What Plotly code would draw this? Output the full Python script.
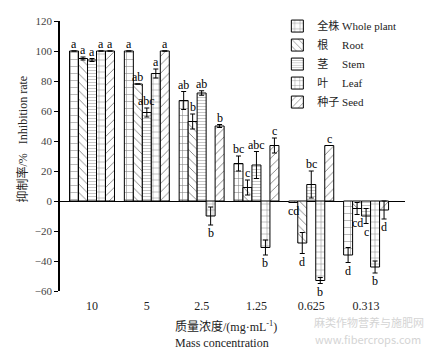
import plotly.graph_objects as go

conc = ["10", "5", "2.5", "1.25", "0.625", "0.313"]

whole = [100, 100, 67, 25, -1, -36]
whole_err = [0, 0, 6, 5, 0, 5]
whole_lab = ["a", "a", "ab", "bc", "cd", "d"]

root = [95, 78, 53, 9, -28, -5]
root_err = [1, 0, 5, 5, 7, 4]
root_lab = ["a", "ab", "b", "c", "d", "cd"]

stem = [94, 59, 72, 24, 11, -10]
stem_err = [1, 3, 1.5, 9, 9, 5]
stem_lab = ["a", "abc", "ab", "abc", "bc", "c"]

leaf = [100, 85, -10, -31, -53, -44]
leaf_err = [0, 3, 6, 5, 2, 4]
leaf_lab = ["a", "a", "b", "b", "b", "b"]

seed = [100, 100, 50, 37, 37, -6]
seed_err = [0, 0, 1, 5, 0, 6]
seed_lab = ["a", "a", "b", "c", "c", "d"]

names = ["全株 Whole plant", "根　 Root", "茎　 Stem", "叶　 Leaf", "种子 Seed"]
series = [whole, root, stem, leaf, seed]
errs = [whole_err, root_err, stem_err, leaf_err, seed_err]
labs = [whole_lab, root_lab, stem_lab, leaf_lab, seed_lab]
shapes = ["+", "\\", "-", "+", "/"]
psizes = [7, 6, 3, 6, 6]

FONT = "Liberation Serif, Noto Sans CJK SC, serif"
xpos = list(range(len(conc)))
group_w = 0.82
bw = group_w / 5

fig = go.Figure()
annotations = []
for i, (nm, vals, er, lb, sh, ps) in enumerate(zip(names, series, errs, labs, shapes, psizes)):
    offs = -group_w / 2 + bw * (i + 0.5)
    fig.add_trace(go.Bar(
        x=xpos, y=vals, name=nm, offsetgroup=str(i),
        marker=dict(color="white", line=dict(color="black", width=1),
                    pattern=dict(shape=sh, size=ps, solidity=0.15, fgcolor="black", bgcolor="white")),
        error_y=dict(type="data", array=er, visible=True, color="black", thickness=1, width=2.5),
    ))
    for j, (v, e, t) in enumerate(zip(vals, er, lb)):
        if v >= 0:
            annotations.append(dict(x=xpos[j] + offs, y=v + e, text=t, showarrow=False,
                                    xanchor="center", yanchor="bottom", xref="x", yref="y", yshift=-2,
                                    font=dict(family=FONT, size=12, color="black")))
        else:
            annotations.append(dict(x=xpos[j] + offs, y=v - e, text=t, showarrow=False,
                                    xanchor="center", yanchor="top", xref="x", yref="y", yshift=1,
                                    font=dict(family=FONT, size=12, color="black")))

annotations.append(dict(x=(22 - 60) / 345, y=1 - (135 - 13) / 278, xref="paper", yref="paper",
                        showarrow=False, xanchor="center", yanchor="middle",
                        text="抑制率/%   Inhibition rate", textangle=-90,
                        font=dict(family=FONT, size=12, color="#222")))
annotations.append(dict(x=(173 - 60) / 345, y=-0.095, xref="paper", yref="paper", showarrow=False,
                        xanchor="left", yanchor="top", align="left",
                        text="质量浓度/(mg·mL<sup>-1</sup>)<br>Mass concentration",
                        font=dict(family=FONT, size=12, color="#222")))
annotations.append(dict(x=(369 - 60) / 345, y=1 - (323 - 13) / 278, xref="paper", yref="paper",
                        showarrow=False, xanchor="center", yanchor="middle",
                        text="麻类作物营养与施肥网",
                        font=dict(family="Noto Sans CJK SC, sans-serif", size=11, color="#d4d4d4")))
annotations.append(dict(x=(368 - 60) / 345, y=1 - (340 - 13) / 278, xref="paper", yref="paper",
                        showarrow=False, xanchor="center", yanchor="middle",
                        text="www.fibercrops.com",
                        font=dict(family="Noto Sans CJK SC, sans-serif", size=11, color="#d4d4d4")))

fig.update_layout(
    width=432, height=349,
    margin=dict(l=60, r=27, t=13, b=58),
    paper_bgcolor="white", plot_bgcolor="white",
    barmode="group", bargap=1 - group_w, bargroupgap=0,
    showlegend=True,
    legend=dict(x=0.63, y=1.035, xanchor="left", yanchor="top", bgcolor="rgba(0,0,0,0)",
                font=dict(family=FONT, size=11, color="#222"), tracegroupgap=0,
                itemwidth=30),
    annotations=annotations,
    font=dict(family=FONT),
)
fig.update_xaxes(range=[-0.584, 5.71], tickmode="array", tickvals=xpos, ticktext=conc,
                 showline=False, showgrid=False, zeroline=False, ticks="",
                 ticklabelstandoff=6,
                 tickfont=dict(family=FONT, size=12, color="#222"))
fig.update_yaxes(range=[-60, 120], dtick=20, showline=True, linecolor="black", linewidth=1.5,
                 ticks="outside", ticklen=4, tickcolor="black", showgrid=False,
                 zeroline=True, zerolinecolor="black", zerolinewidth=1,
                 tickfont=dict(family=FONT, size=11, color="#444"))

fig.write_html("out.html")
